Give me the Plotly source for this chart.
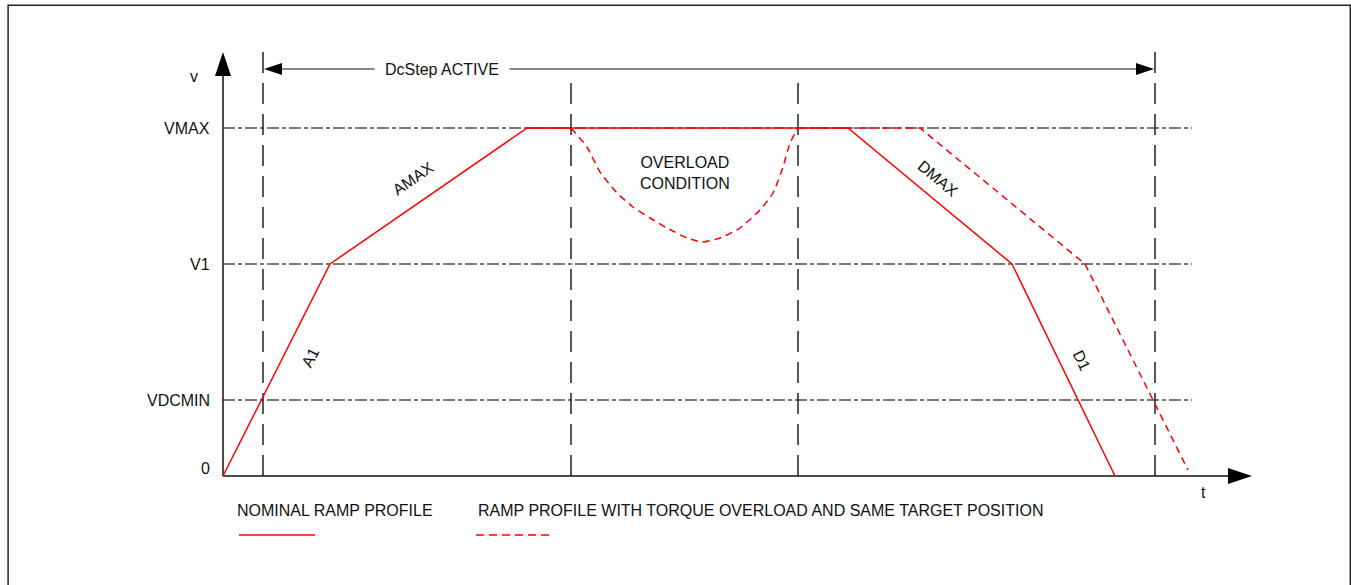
import plotly.graph_objects as go

# velocity levels (VMAX, V1, VDCMIN)
level_names = ["VMAX", "V1", "VDCMIN"]
level_values = [3.48, 2.12, 0.76]

# DcStep window and markers on the time axis
t_markers = [4.0, 34.8, 57.5, 93.2]

# nominal ramp profile
nominal_t = [0, 10.7, 30.4, 62.5, 78.9, 89.2]
nominal_v = [0, 2.12, 3.48, 3.48, 2.12, 0]

# ramp profile with torque overload (same target position)
overload_t = [30.4, 34.8, 36.4, 37.7, 39.4, 41.0, 42.7, 44.4, 46.4, 47.9, 49.7,
              51.7, 53.7, 55.0, 56.0, 56.7, 57.5, 69.7, 86.2, 96.5]
overload_v = [3.48, 3.48, 3.29, 3.04, 2.83, 2.69, 2.58, 2.48, 2.38, 2.34, 2.38,
              2.48, 2.66, 2.83, 3.09, 3.33, 3.48, 3.48, 2.12, 0.06]
dip_start, dip_end = 1, 16   # indices of the overload dip

t_end = 102.9      # end of t axis
v_top = 4.24       # end of v axis
ref_end = 96.9     # where reference lines stop
arrow_v = 4.07     # height of the DcStep ACTIVE arrow

FONT = "Liberation Sans, Arial, sans-serif"
RED = "#ff0000"
GREY = "#4d4d4d"

fig = go.Figure()

# horizontal dash-dot reference lines
for name, lv in zip(level_names, level_values):
    fig.add_trace(go.Scatter(x=[0, ref_end], y=[lv, lv], mode="lines",
                             line=dict(color=GREY, width=1.5, dash="12px,3px,4px,3px"),
                             hoverinfo="skip", showlegend=False))

# vertical dashed markers
for i, tm in enumerate(t_markers):
    top = v_top if i in (0, 3) else 3.96
    fig.add_trace(go.Scatter(x=[tm, tm], y=[0, top], mode="lines",
                             line=dict(color="#222222", width=1.5, dash="21px,10px"),
                             hoverinfo="skip", showlegend=False))

# axes
fig.add_trace(go.Scatter(x=[0, 0], y=[0, v_top - 0.1], mode="lines",
                         line=dict(color="#111111", width=1.5), showlegend=False, hoverinfo="skip"))
fig.add_trace(go.Scatter(x=[0, t_end - 1], y=[0, 0], mode="lines",
                         line=dict(color="#111111", width=1.5), showlegend=False, hoverinfo="skip"))

# DcStep arrow line
fig.add_trace(go.Scatter(x=[t_markers[0] + 1, t_markers[3] - 1], y=[arrow_v, arrow_v], mode="lines",
                         line=dict(color="#111111", width=1.2), showlegend=False, hoverinfo="skip"))

# overload profile: straight parts + smooth dip
dash_red = dict(color=RED, width=1.5, dash="7px,5px")
fig.add_trace(go.Scatter(x=overload_t[:dip_start + 1], y=overload_v[:dip_start + 1], mode="lines",
                         line=dash_red, showlegend=False, hoverinfo="skip"))
fig.add_trace(go.Scatter(x=overload_t[dip_start:dip_end + 1], y=overload_v[dip_start:dip_end + 1],
                         mode="lines", line=dict(dash_red, shape="spline", smoothing=0.5),
                         showlegend=False, hoverinfo="skip"))
fig.add_trace(go.Scatter(x=overload_t[dip_end:], y=overload_v[dip_end:], mode="lines",
                         line=dash_red, showlegend=False, hoverinfo="skip"))

# nominal profile
fig.add_trace(go.Scatter(x=nominal_t, y=nominal_v, mode="lines",
                         line=dict(color=RED, width=1.5), showlegend=False, hoverinfo="skip"))

shapes = [
    # frame
    dict(type="rect", xref="paper", yref="paper", x0=0.006, x1=0.9995, y0=-0.05, y1=0.991,
         line=dict(color="#222222", width=1.5)),
    # arrowheads
    dict(type="path", xsizemode="pixel", ysizemode="pixel", xanchor=0, yanchor=v_top,
         path="M0,0 L-8,-24 L8,-24 Z", fillcolor="black", line=dict(width=0)),
    dict(type="path", xsizemode="pixel", ysizemode="pixel", xanchor=t_end, yanchor=0,
         path="M0,0 L-24,8 L-24,-8 Z", fillcolor="black", line=dict(width=0)),
    dict(type="path", xsizemode="pixel", ysizemode="pixel", xanchor=t_markers[0], yanchor=arrow_v,
         path="M1,0 L19,6 L19,-6 Z", fillcolor="black", line=dict(width=0)),
    dict(type="path", xsizemode="pixel", ysizemode="pixel", xanchor=t_markers[3], yanchor=arrow_v,
         path="M-1,0 L-19,6 L-19,-6 Z", fillcolor="black", line=dict(width=0)),
    # legend swatches
    dict(type="line", x0=1.6, x1=9.2, y0=-0.59, y1=-0.59, line=dict(color=RED, width=1.5)),
    dict(type="line", x0=25.3, x1=32.9, y0=-0.59, y1=-0.59,
         line=dict(color=RED, width=1.5, dash="8px,5px")),
]

tf = dict(family=FONT, size=16, color="#111111")
ann = []
for name, lv in zip(level_names, level_values):
    ann.append(dict(x=-1.1, y=lv, text=name, xanchor="right", yanchor="middle", showarrow=False, font=tf))
ann += [
    dict(x=-1.1, y=0.08, text="0", xanchor="right", yanchor="middle", showarrow=False, font=tf),
    dict(x=-2.3, y=4.0, text="v", xanchor="right", yanchor="middle", showarrow=False, font=tf),
    dict(x=98.0, y=-0.16, text="t", xanchor="center", yanchor="middle", showarrow=False, font=tf),
    dict(x=21.9, y=arrow_v, text="DcStep ACTIVE", xanchor="center", yanchor="middle",
         showarrow=False, font=tf, bgcolor="white", borderpad=10),
    dict(x=46.2, y=3.03, text="OVERLOAD<br>CONDITION", xanchor="center", yanchor="middle",
         showarrow=False, font=tf),
    dict(x=8.7, y=1.19, text="A1", textangle=-63, showarrow=False, font=tf),
    dict(x=19.0, y=2.98, text="AMAX", textangle=-34.6, showarrow=False, font=tf),
    dict(x=71.5, y=2.98, text="DMAX", textangle=39.7, showarrow=False, font=tf),
    dict(x=85.9, y=1.16, text="D1", textangle=64, showarrow=False, font=tf),
    dict(x=1.2, y=-0.34, text="NOMINAL RAMP PROFILE", xanchor="left", yanchor="middle",
         showarrow=False, font=tf),
    dict(x=25.3, y=-0.34, text="RAMP PROFILE WITH TORQUE OVERLOAD AND SAME TARGET POSITION",
         xanchor="left", yanchor="middle", showarrow=False, font=tf),
]

fig.update_layout(
    width=1351, height=585,
    margin=dict(l=0, r=0, t=0, b=0, pad=0),
    paper_bgcolor="white", plot_bgcolor="white",
    xaxis=dict(range=[-22.3, 112.8], visible=False, fixedrange=True),
    yaxis=dict(range=[-1.09, 4.76], visible=False, fixedrange=True),
    shapes=shapes, annotations=ann, showlegend=False,
)

fig.write_html("out.html", config={"displayModeBar": False},
               post_script="document.body.style.margin='0';")
